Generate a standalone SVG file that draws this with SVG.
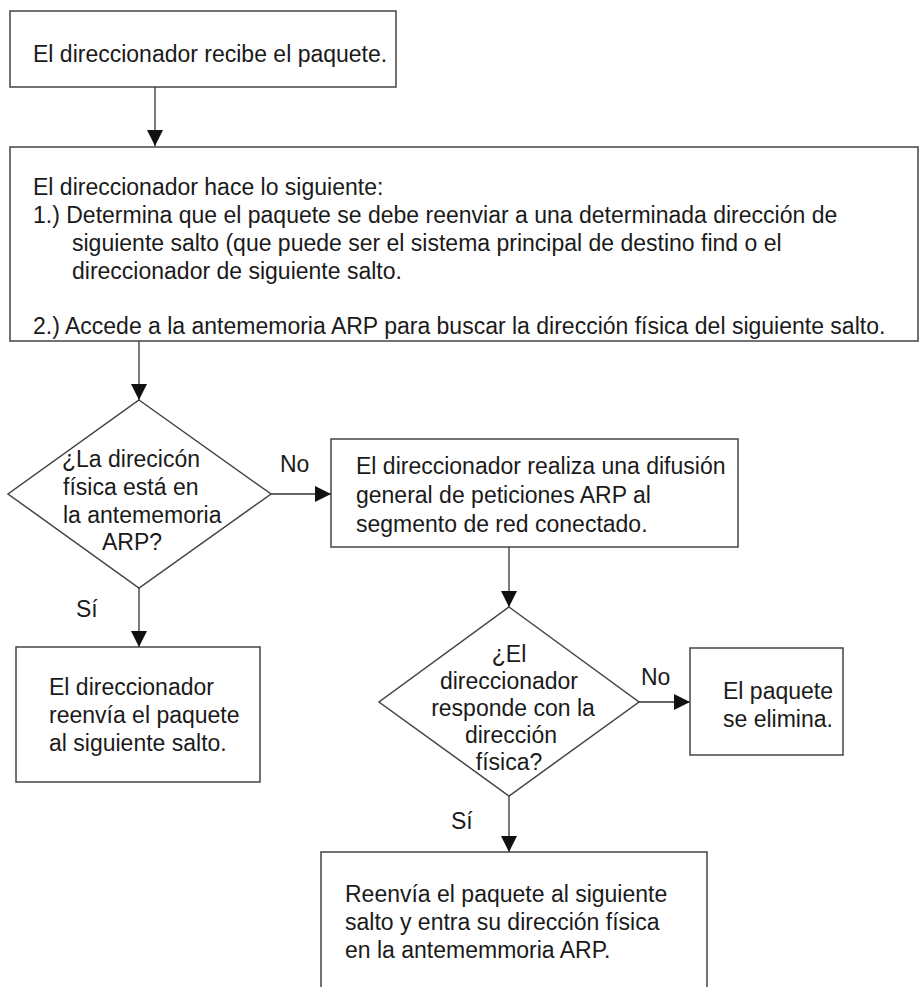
<svg xmlns="http://www.w3.org/2000/svg" width="919" height="987" viewBox="0 0 919 987">
<defs>
<style>
text{font-family:"Liberation Sans",Arial,sans-serif;font-size:23px;fill:#1a1a1a}
.box{fill:#fff;stroke:#444;stroke-width:1.5}
.con{stroke:#333;stroke-width:1.3;fill:none}
.c{text-anchor:middle}
</style>
<marker id="ah" markerWidth="16" markerHeight="16" refX="16" refY="8" orient="auto" markerUnits="userSpaceOnUse">
<path d="M0,0 L16,8 L0,16 Z" fill="#111"/>
</marker>
</defs>
<rect width="919" height="987" fill="#fff"/>
<g id="connectors">
<line class="con" x1="155" y1="87" x2="155" y2="146" marker-end="url(#ah)"/>
<line class="con" x1="139" y1="341" x2="139" y2="400" marker-end="url(#ah)"/>
<line class="con" x1="271" y1="494" x2="331" y2="494" marker-end="url(#ah)"/>
<line class="con" x1="139" y1="588" x2="139" y2="647" marker-end="url(#ah)"/>
<line class="con" x1="509" y1="547" x2="509" y2="607" marker-end="url(#ah)"/>
<line class="con" x1="639" y1="702" x2="690" y2="702" marker-end="url(#ah)"/>
<line class="con" x1="509" y1="796" x2="509" y2="852" marker-end="url(#ah)"/>
<text x="280" y="472">No</text>
<text x="76" y="617">Sí</text>
<text x="641" y="685">No</text>
<text x="451" y="829">Sí</text>
</g>
<g id="n1">
<rect class="box" x="10" y="11" width="386" height="76"/>
<text x="33" y="62">El direccionador recibe el paquete.</text>
</g>
<g id="n2">
<rect class="box" x="10" y="147" width="908" height="194"/>
<text x="33" y="195">El direccionador hace lo siguiente:</text>
<text x="33" y="223">1.) Determina que el paquete se debe reenviar a una determinada dirección de</text>
<text x="72" y="251">siguiente salto (que puede ser el sistema principal de destino find o el</text>
<text x="72" y="279">direccionador de siguiente salto.</text>
<text x="33" y="334">2.) Accede a la antememoria ARP para buscar la dirección física del siguiente salto.</text>
</g>
<g id="d1">
<polygon class="box" points="139,400 271,494 139,588 8,494"/>
<text x="62" y="467">¿La direcicón</text>
<text x="63" y="495">física está en</text>
<text x="63" y="523">la antememoria</text>
<text x="102" y="550">ARP?</text>
</g>
<g id="n3">
<rect class="box" x="331" y="439" width="407" height="108"/>
<text x="356" y="474">El direccionador realiza una difusión</text>
<text x="356" y="503">general de peticiones ARP al</text>
<text x="356" y="532">segmento de red conectado.</text>
</g>
<g id="n4">
<rect class="box" x="16" y="647" width="244" height="135"/>
<text x="49" y="695">El direccionador</text>
<text x="49" y="723">reenvía el paquete</text>
<text x="49" y="751">al siguiente salto.</text>
</g>
<g id="d2">
<polygon class="box" points="509,607 639,702 509,796 379,702"/>
<text class="c" x="509" y="662">¿El</text>
<text class="c" x="509" y="689">direccionador</text>
<text class="c" x="513" y="716">responde con la</text>
<text class="c" x="511" y="743">dirección</text>
<text class="c" x="509" y="770">física?</text>
</g>
<g id="n5">
<rect class="box" x="690" y="648" width="153" height="107"/>
<text x="723" y="699">El paquete</text>
<text x="723" y="727">se elimina.</text>
</g>
<g id="n6">
<rect class="box" x="321" y="852" width="386" height="160"/>
<text x="345" y="902">Reenvía el paquete al siguiente</text>
<text x="345" y="930">salto y entra su dirección física</text>
<text x="345" y="958">en la antememmoria ARP.</text>
</g>
</svg>
